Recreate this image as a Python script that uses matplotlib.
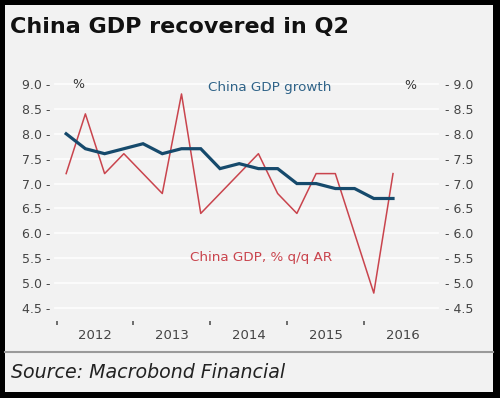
import numpy as np
import matplotlib
matplotlib.use('Agg')
import matplotlib.pyplot as plt
from matplotlib.patches import Rectangle

# quarterly data, 2012Q1 .. 2016Q2
quarters = ['2012Q1', '2012Q2', '2012Q3', '2012Q4',
            '2013Q1', '2013Q2', '2013Q3', '2013Q4',
            '2014Q1', '2014Q2', '2014Q3', '2014Q4',
            '2015Q1', '2015Q2', '2015Q3', '2015Q4',
            '2016Q1', '2016Q2']
gdp_yoy = [8.0, 7.7, 7.6, 7.7, 7.8, 7.6, 7.7, 7.7, 7.3,
           7.4, 7.3, 7.3, 7.0, 7.0, 6.9, 6.9, 6.7, 6.7]
gdp_qoq_ar = [7.2, 8.4, 7.2, 7.6, 7.2, 6.8, 8.8, 6.4, 6.8,
              7.2, 7.6, 6.8, 6.4, 7.2, 7.2, 6.0, 4.8, 7.2]
years = [2012, 2013, 2014, 2015, 2016]
y_ticks = [4.5, 5.0, 5.5, 6.0, 6.5, 7.0, 7.5, 8.0, 8.5, 9.0]

# x position = middle of each quarter
x = np.array([int(q[:4]) + (int(q[-1]) - 0.5) / 4 for q in quarters])

W, H = 500, 398
BG = '#f2f2f2'
BLUE = '#164a6c'
RED = '#c9444d'
TXT = '#444444'

fig = plt.figure(figsize=(W / 100, H / 100), dpi=100)
fig.patch.set_facecolor('black')
# light panel inside the black frame
fig.patches.append(Rectangle((5 / W, 6 / H), 488 / W, 387 / H,
                             transform=fig.transFigure, facecolor=BG,
                             edgecolor='none', zorder=-10))

fig.text(10 / W, 1 - 33 / H, 'China GDP recovered in Q2', fontsize=16,
         fontweight='bold', color='#111111', va='baseline', ha='left')

ax = fig.add_axes([55 / W, 1 - 308 / H, 383 / W, 224 / H])
ax.set_facecolor(BG)
ax.set_xlim(2011.98, 2016.96)
ax.set_ylim(4.5, 9.0)

for v in y_ticks:
    ax.axhline(v, color='#fcfcfc', lw=1.3, zorder=1, clip_on=False)

ax.plot(x, gdp_qoq_ar, color=RED, lw=1.1, zorder=3)
ax.plot(x, gdp_yoy, color=BLUE, lw=2.3, zorder=4, solid_joinstyle='miter')

for s in ax.spines.values():
    s.set_visible(False)
ax.spines['bottom'].set_position(('outward', 9))

ax.set_yticks(y_ticks)
ax.set_yticklabels([f'{v:.1f} -' for v in y_ticks])
ax.tick_params(axis='y', length=0, pad=3, labelsize=9, labelcolor=TXT)

ax2 = ax.twinx()
for s in ax2.spines.values():
    s.set_visible(False)
ax2.set_ylim(ax.get_ylim())
ax2.set_yticks(y_ticks)
ax2.set_yticklabels([f'- {v:.1f}' for v in y_ticks])
ax2.tick_params(axis='y', length=0, pad=5, labelsize=9, labelcolor=TXT)

ax.set_xticks(years)
ax.set_xticklabels([])
ax.set_xticks([y + 0.5 for y in years], minor=True)
ax.set_xticklabels([str(y) for y in years], minor=True)
ax.tick_params(axis='x', which='major', length=3, width=1.2, color='#555555',
               direction='out')
ax.tick_params(axis='x', which='minor', length=0, pad=6, labelsize=9.5,
               labelcolor=TXT)

ax.text(2012.28, 9.0, '%', fontsize=9, color='#333333', ha='center',
        va='center')
ax.text(2016.6, 8.97, '%', fontsize=9, color='#333333', ha='center',
        va='center')
ax.text(2014.77, 8.93, 'China GDP growth', fontsize=9.7, color='#2f6388',
        ha='center', va='center')
ax.text(2013.74, 5.52, 'China GDP, % q/q AR', fontsize=9.7, color=RED,
        ha='left', va='center')

# separator and source
fig.add_artist(plt.Line2D([5 / W, 493 / W], [1 - 352 / H, 1 - 352 / H],
                          transform=fig.transFigure, color='#9a9a9a', lw=1.5))
fig.text(11 / W, 1 - 372 / H, 'Source: Macrobond Financial', fontsize=13.7,
         fontstyle='italic', color='#222222', va='center', ha='left')

fig.savefig('out.png', dpi=100, facecolor=fig.get_facecolor())
